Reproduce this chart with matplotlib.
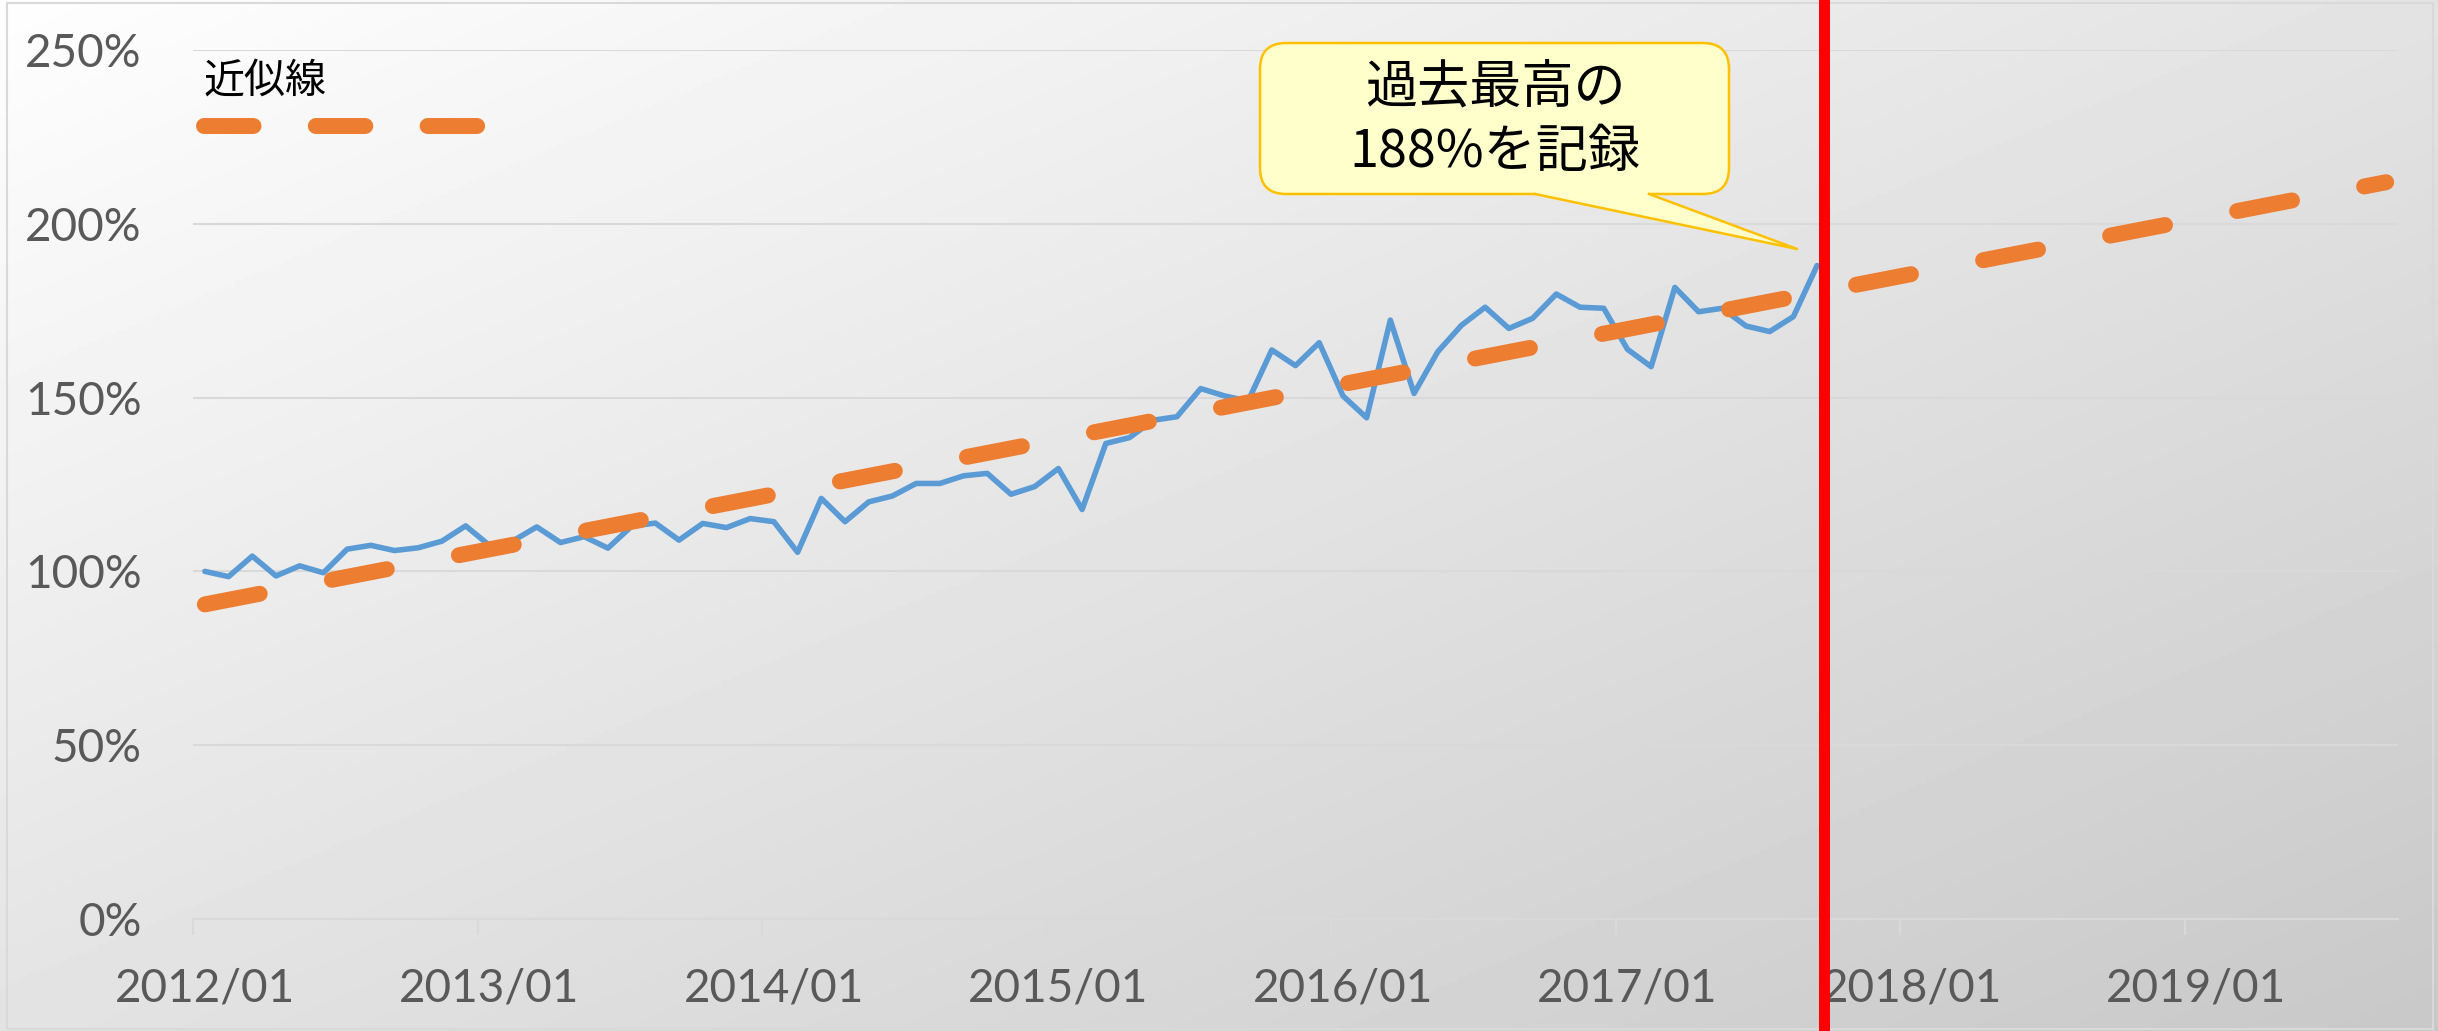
import numpy as np
import pandas as pd
import matplotlib
matplotlib.use('Agg')
import matplotlib.pyplot as plt
from matplotlib import transforms
from matplotlib.lines import Line2D
from matplotlib.patches import FancyBboxPatch, Polygon, Rectangle

# monthly index in %, 2012/01 = 100
index_values = [
    100.0, 98.5, 104.4, 98.7, 101.6, 99.6, 106.4, 107.5, 106.0, 106.8, 108.7, 113.1,
    107.5, 108.8, 112.8, 108.3, 110.0, 106.7, 113.0, 113.9, 109.0, 113.8, 112.6, 115.2,
    114.3, 105.5, 121.0, 114.3, 120.0, 121.7, 125.3, 125.3, 127.5, 128.2, 122.2, 124.4,
    129.6, 117.8, 136.8, 138.5, 143.5, 144.5, 152.6, 150.5, 149.0, 163.7, 159.2, 165.8,
    150.5, 144.2, 172.3, 151.2, 163.2, 170.8, 176.0, 169.9, 172.8, 179.8, 176.0, 175.7,
    163.9, 158.9, 181.7, 174.7, 175.7, 170.6, 169.0, 173.3, 188.0,
]
start_month = '2012-01'
forecast_months = 24
highlight_month = 68.3
y_ticks = [0, 50, 100, 150, 200, 250]
trend_label = '近似線'
callout_text = '過去最高の\n188%を記録'

months = pd.date_range(start_month, periods=len(index_values) + forecast_months, freq='MS')
x_hist = np.arange(len(index_values))
x_all = np.arange(len(months))
coef = np.polyfit(x_hist, index_values, 1)
trend = np.polyval(coef, x_all)

plt.rcParams['font.family'] = ['Lato', 'Noto Sans CJK JP', 'DejaVu Sans']
cjk = ['Noto Sans CJK JP', 'DejaVu Sans']

W, H = 2438, 1031
fig = plt.figure(figsize=(W / 100, H / 100), dpi=100)

# gradient background
bg = fig.add_axes([0, 0, 1, 1], zorder=-10)
gx, gy = np.meshgrid(np.linspace(0, 1, 500), np.linspace(0, 1, 250))
shade = 254 - 54 * (gx + gy) / 2
bg.imshow(shade, cmap='gray', vmin=0, vmax=255, aspect='auto', extent=(0, 1, 0, 1))
bg.set_axis_off()
fig.add_artist(Rectangle((0.003, 0.002), 0.995, 0.995, transform=fig.transFigure,
                         fill=False, ec='#D9D9D9', lw=1.5))

ax = fig.add_axes([193 / W, 1 - 919 / H, 2205 / W, 869 / H])
ax.patch.set_alpha(0)

ax.plot(x_hist, index_values, color='#5B9BD5', lw=4.0, solid_joinstyle='round',
        solid_capstyle='round', zorder=3)
ax.plot(x_all, trend, color='#ED7D31', lw=11.5, dashes=(3.5, 4.6),
        dash_capstyle='round', zorder=4)

ax.set_xlim(-0.5, len(months) - 0.5)
ax.set_ylim(0, 250)
ax.set_yticks(y_ticks)
ax.set_yticklabels([f'{v}%' for v in y_ticks])
ax.yaxis.grid(True, color='#D9D9D9', lw=1.5)
ax.set_axisbelow(True)
ax.tick_params(axis='y', length=0, pad=37, labelsize=33, labelcolor='#595959')

year_idx = x_all[::12]
ax.set_xticks(year_idx - 0.5)
ax.set_xticks(year_idx, minor=True)
ax.set_xticklabels(months[year_idx].strftime('%Y/%m'), minor=True)
ax.tick_params(axis='x', which='major', length=11.5, width=1.5, color='#D9D9D9',
               labelbottom=False)
ax.tick_params(axis='x', which='minor', length=0, pad=35, labelsize=33,
               labelcolor='#595959')
for s in ['top', 'right', 'left']:
    ax.spines[s].set_visible(False)
ax.spines['bottom'].set_color('#D9D9D9')
ax.spines['bottom'].set_linewidth(1.5)

# legend
proxy = Line2D([], [], color='#ED7D31', lw=11.5, dashes=(3.1, 3.9), dash_capstyle='round')
ax.legend([proxy], [''], title=trend_label, loc='upper left',
          bbox_to_anchor=(204 / W, 1 - 61 / H), bbox_transform=fig.transFigure,
          frameon=False, handlelength=6.68, prop={'size': 29.5},
          title_fontproperties={'family': cjk, 'size': 29.5}, alignment='left',
          borderpad=0, borderaxespad=0, handletextpad=0, labelspacing=0.2)

# red marker line
trans = transforms.blended_transform_factory(ax.transData, fig.transFigure)
fig.add_artist(Line2D([highlight_month, highlight_month], [0, 1 - 4 / H], transform=trans,
                      color='#FF0000', lw=7.9, zorder=10))

# callout
def px(x, y):
    return (x / 100, (H - y) / 100)

st = fig.dpi_scale_trans
fig.add_artist(FancyBboxPatch(px(1260, 194), 4.69, 1.51,
                              boxstyle='round,pad=0,rounding_size=0.26', transform=st,
                              fc='#FFFFCC', ec='#FFC000', lw=1.8, zorder=20))
fig.add_artist(Polygon([px(1536, 186), px(1536, 194), px(1797, 249), px(1648, 194),
                        px(1648, 186)], closed=True, transform=st, fc='#FFFFCC',
                       ec='none', zorder=21))
fig.add_artist(Line2D(*zip(px(1535, 194), px(1797, 249), px(1649, 194)), transform=st,
                      color='#FFC000', lw=1.8, zorder=22))
fig.text(*px(1495, 120), callout_text, transform=st, ha='center', va='center',
         fontsize=37.5, family=cjk, linespacing=1.25, zorder=23)

fig.savefig('out.png', dpi=100)
